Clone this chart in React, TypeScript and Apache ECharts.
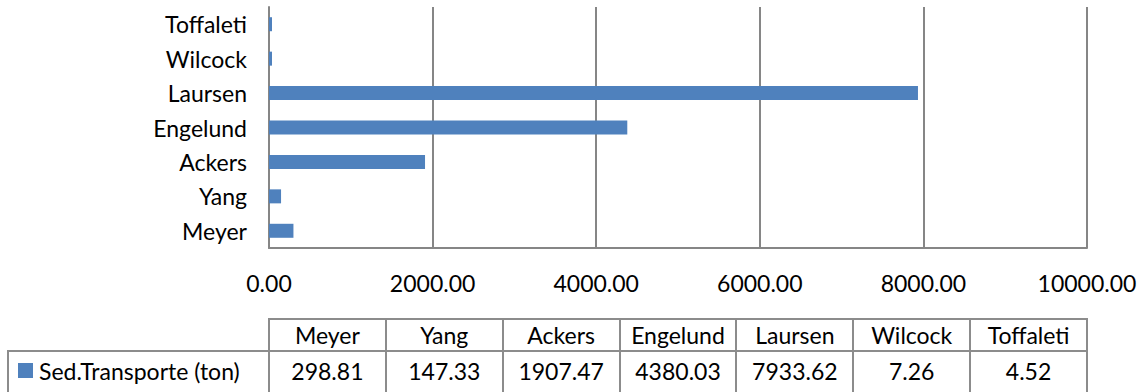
import React, { useEffect, useRef } from "react";
import * as echarts from "echarts";

const categories = ["Meyer", "Yang", "Ackers", "Engelund", "Laursen", "Wilcock", "Toffaleti"];
const values = [298.81, 147.33, 1907.47, 4380.03, 7933.62, 7.26, 4.52];
const seriesName = "Sed.Transporte (ton)";
const xMin = 0;
const xMax = 10000;
const xInterval = 2000;

const W = 1148;
const H = 392;
const GRID_LEFT = 269;
const GRID_RIGHT_X = 1087;
const GRID_TOP = 7;
const GRID_BOTTOM_Y = 248;
const FONT = "Lato, 'Open Sans', sans-serif";
const FS = 23;
const BAR = "#4F81BD";
const LINE = "#868686";
const TABLE_LINE = "#8C8C8C";

export default function App() {
  const ref = useRef<HTMLDivElement>(null);
  useEffect(() => {
    if (!ref.current) return;
    const chart = echarts.init(ref.current, undefined, { renderer: "svg" });

    const n = categories.length;
    const colW = (GRID_RIGHT_X - GRID_LEFT) / n;
    const headTop = 319;
    const rowTop = 351;
    const rowBottom = 396;
    const headMid = (headTop + rowTop) / 2;
    const rowMid = 371;

    const graphics: any[] = [];
    const ln = (x1: number, y1: number, x2: number, y2: number) => ({
      type: "line",
      shape: { x1, y1, x2, y2 },
      style: { stroke: TABLE_LINE, lineWidth: 2 },
      silent: true,
    });
    graphics.push(ln(GRID_LEFT - 1, headTop, GRID_RIGHT_X + 1, headTop));
    graphics.push(ln(7, rowTop, GRID_RIGHT_X + 1, rowTop));
    graphics.push(ln(8, rowTop, 8, rowBottom));
    for (let k = 0; k <= n; k++) {
      const x = Math.round(GRID_LEFT + k * colW);
      graphics.push(ln(x, headTop, x, rowBottom));
    }
    categories.forEach((c, i) => {
      const cx = GRID_LEFT + (i + 0.5) * colW;
      graphics.push({
        type: "text",
        style: { text: c, x: cx, y: headMid, align: "center", verticalAlign: "middle", fontSize: FS, fontFamily: FONT, fill: "#000" },
      });
      graphics.push({
        type: "text",
        style: { text: values[i].toFixed(2), x: cx, y: rowMid, align: "center", verticalAlign: "middle", fontSize: FS, fontFamily: FONT, fill: "#000" },
      });
    });
    graphics.push({
      type: "rect",
      shape: { x: 18, y: 363, width: 15, height: 15 },
      style: { fill: BAR },
    });
    graphics.push({
      type: "text",
      style: { text: seriesName, x: 39, y: rowMid, align: "left", verticalAlign: "middle", fontSize: FS, fontFamily: FONT, fill: "#000" },
    });

    chart.setOption({
      animation: false,
      backgroundColor: "#fff",
      grid: {
        left: GRID_LEFT,
        right: W - GRID_RIGHT_X,
        top: GRID_TOP,
        bottom: H - GRID_BOTTOM_Y,
        containLabel: false,
      },
      xAxis: {
        type: "value",
        min: xMin,
        max: xMax,
        interval: xInterval,
        axisLine: { show: true, lineStyle: { color: LINE, width: 2 } },
        axisTick: { show: false },
        splitLine: { show: true, lineStyle: { color: LINE, width: 2 } },
        axisLabel: {
          formatter: (v: number) => v.toFixed(2),
          fontSize: FS,
          fontFamily: FONT,
          color: "#000",
          margin: 23,
        },
      },
      yAxis: {
        type: "category",
        data: categories,
        axisLine: { show: true, lineStyle: { color: LINE, width: 2 } },
        axisTick: { show: false },
        splitLine: { show: false },
        axisLabel: { fontSize: FS, fontFamily: FONT, color: "#000", margin: 22 },
      },
      series: [
        {
          name: seriesName,
          type: "bar",
          data: values,
          barWidth: 14,
          barMinHeight: 3,
          itemStyle: { color: BAR },
        },
      ],
      graphic: graphics,
    });
    return () => chart.dispose();
  }, []);
  return <div ref={ref} style={{ position: "fixed", left: 0, top: 0, width: W, height: H }} />;
}
